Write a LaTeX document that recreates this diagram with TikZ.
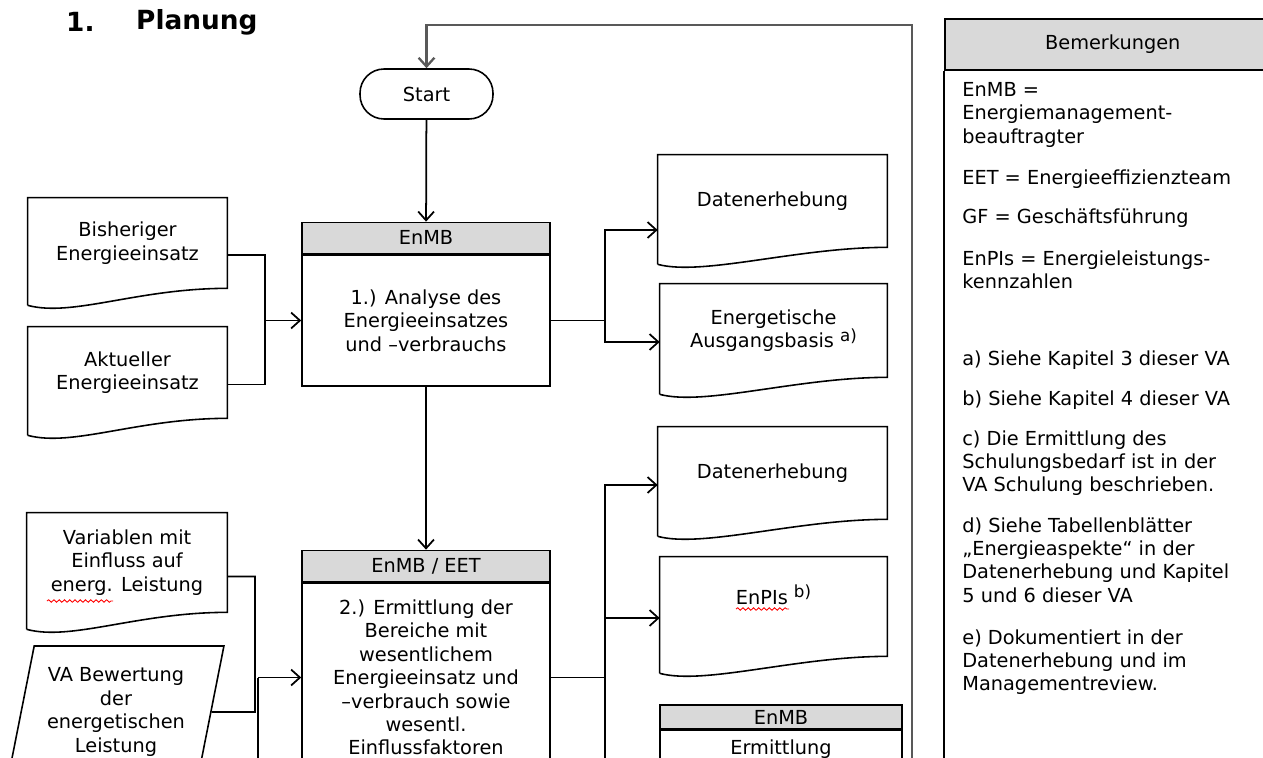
\documentclass[tikz,border=0pt]{standalone}
\usepackage{fontspec}
\setmainfont{DejaVu Sans}
\usetikzlibrary{arrows.meta,positioning,calc,shapes.geometric,decorations.pathmorphing}
\tikzstyle{boxline} = [draw=black, line width=0.9pt]
\tikzstyle{line} = [draw=black, line width=1pt]
\tikzstyle{arrow} = [line, ->]
\tikzstyle{loopline} = [draw=black!65, line width=1.3pt, ->]
\tikzstyle{docnode} = [inner sep=0pt, align=center, minimum height=1.8cm]
\tikzstyle{prochead} = [boxline, fill=gray!30, minimum width=4.96cm, minimum height=0.62cm, inner sep=0pt]
\tikzstyle{procbody} = [boxline, fill=white, minimum width=4.96cm, align=center, inner sep=0pt]
\tikzstyle{term} = [boxline, rounded corners=0.48cm, minimum width=2.66cm, minimum height=1cm]
\tikzstyle{para} = [boxline, trapezium, trapezium left angle=76, trapezium right angle=104,
  trapezium stretches=true, minimum width=4.32cm, minimum height=2.64cm, inner sep=0pt, align=center]
\tikzstyle{note} = [anchor=north west, align=left, inner sep=0pt]
\tikzstyle{spell} = [red, line width=0.5pt, decorate, decoration={snake, amplitude=0.7pt, segment length=3pt}]
\newcommand{\fnref}[1]{\raisebox{0.6ex}{\fontsize{9.5}{10}\selectfont #1}}
% wavy lower edge of a document symbol
\newcommand{\docframe}[1]{%
  \draw[boxline] ($(#1.south west)+(0,17)$) -- (#1.north west) -- (#1.north east) -- (#1.south east)
    .. controls +(-90,0) and +(45,12) .. ($(#1.south west)+(0,17)$);}

\begin{document}
\begin{tikzpicture}[x=0.02cm, y=-0.02cm,
    >={Straight Barb[length=5pt,width=9pt]},
    font=\fontsize{11}{13.3}\selectfont,
  ]
  \path[use as bounding box, clip] (0,0) rectangle (1263,757);

  \node[font=\fontsize{15}{18}\selectfont\bfseries, anchor=west] (num) at (60,22) {1.};
  \node[font=\fontsize{15}{18}\selectfont\bfseries, anchor=west] (title) at (130,22) {Planung};

  \node[term] (start) at (426.5,94) {Start};

  % step 1
  \node[procbody, minimum height=2.62cm] (p1) at (426,320.5) {1.) Analyse des\\Energieeinsatzes\\und –verbrauchs};
  \node[prochead, above=0pt of p1] (h1) {EnMB};

  \node[docnode, minimum width=3.98cm] (bisher) at (127.5,243) {Bisheriger\\Energieeinsatz};
  \node[docnode, minimum width=3.98cm, minimum height=1.82cm] (aktuell) at (127.5,372.5) {Aktueller\\Energieeinsatz};
  \node[docnode, minimum width=4.58cm, minimum height=1.84cm] (daten1) at (772.5,201) {Datenerhebung};
  \node[docnode, minimum width=4.54cm, minimum height=1.86cm] (basis) at (773.5,330.5) {Energetische\\Ausgangsbasis \fnref{a)}};
  \docframe{bisher}
  \docframe{aktuell}
  \docframe{daten1}
  \docframe{basis}

  % step 2
  \node[procbody, minimum height=3.78cm] (p2) at (426,677.5) {2.) Ermittlung der\\Bereiche mit\\wesentlichem\\Energieeinsatz und\\–verbrauch sowie\\wesentl.\\Einflussfaktoren};
  \node[prochead, above=0pt of p2] (h2) {EnMB / EET};

  \node[docnode, minimum width=4cm, minimum height=1.98cm] (variablen) at (127,562.5) {Variablen mit\\Einfluss auf\\energ. Leistung};
  \node[para] (bewert) at (116,712) {VA Bewertung\\der\\energetischen\\Leistung};
  \node[docnode, minimum width=4.58cm, minimum height=1.84cm] (daten2) at (772.5,473) {Datenerhebung};
  \node[docnode, minimum width=4.54cm, minimum height=1.98cm] (enpis) at (773.5,606.5) {EnPIs \fnref{b)}\\\mbox{}};
  \docframe{variablen}
  \docframe{daten2}
  \docframe{enpis}

  \node[prochead, minimum width=4.84cm, minimum height=0.48cm] (h3) at (781,717) {EnMB};
  \node[procbody, minimum width=4.84cm, minimum height=0.76cm, below=0pt of h3] (p3) {Ermittlung};

  \draw[spell] (47,601) -- (113,601);
  \draw[spell] (736,609) -- (789,609);

  % connectors
  \coordinate (loopend) at (912,800);
  \draw[loopline] (loopend) |- ($(start.north)+(0,-43)$) -- (start.north);
  \draw[arrow] (start) -- (h1);
  \draw[arrow] (p1) -- (h2);

  \coordinate (j1) at (265,320.5);
  \draw[line] ($(bisher.east)+(0,12)$) -| (j1);
  \draw[line] ($(aktuell.east)+(0,12)$) -| (j1);
  \draw[arrow] (j1) -- (p1.west);

  \coordinate (j2) at (605,320.5);
  \draw[line] (p1.east) -- (j2);
  \draw[arrow] (j2) |- ($(daten1.west)+(0,29)$);
  \draw[arrow] (j2) |- ($(basis.west)+(0,11.5)$);

  \coordinate (j3) at (255,712);
  \coordinate (j5) at (258,677.5);
  \coordinate (j5end) at (258,800);
  \draw[line] ($(variablen.east)+(0,14)$) -| (j3) -- (bewert.east);
  \draw[line] (j5) -- (j5end);
  \draw[arrow] (j5) -- (p2.west);

  \coordinate (j4) at (605,677.5);
  \coordinate (j4end) at (605,800);
  \draw[line] (p2.east) -- (j4) -- (j4end);
  \draw[arrow] (j4) |- ($(daten2.west)+(0,12)$);
  \draw[arrow] (j4) |- ($(enpis.west)+(0,11.5)$);

  % remarks
  \node[prochead, minimum width=6.72cm, minimum height=1.02cm, anchor=north west] (remhead) at (944,18) {Bemerkungen};
  \coordinate (remend) at (944,800);
  \draw[boxline] (remhead.south west) -- (remend);

  \node[note] (n1) at (962,82) {EnMB =\\Energiemanagement-\\beauftragter};
  \node[note] (n2) at (962,169) {EET = Energieeffizienzteam};
  \node[note] (n3) at (962,208) {GF = Geschäftsführung};
  \node[note] (n4) at (962,250) {EnPIs = Energieleistungs-\\kennzahlen};
  \node[note] (n5) at (962,350) {a) Siehe Kapitel 3 dieser VA};
  \node[note] (n6) at (962,390) {b) Siehe Kapitel 4 dieser VA};
  \node[note] (n7) at (962,430) {c) Die Ermittlung des\\Schulungsbedarf ist in der\\VA Schulung beschrieben.};
  \node[note] (n8) at (962,517) {d) Siehe Tabellenblätter\\„Energieaspekte“ in der\\Datenerhebung und Kapitel\\5 und 6 dieser VA};
  \node[note] (n9) at (962,629) {e) Dokumentiert in der\\Datenerhebung und im\\Managementreview.};
\end{tikzpicture}
\end{document}
